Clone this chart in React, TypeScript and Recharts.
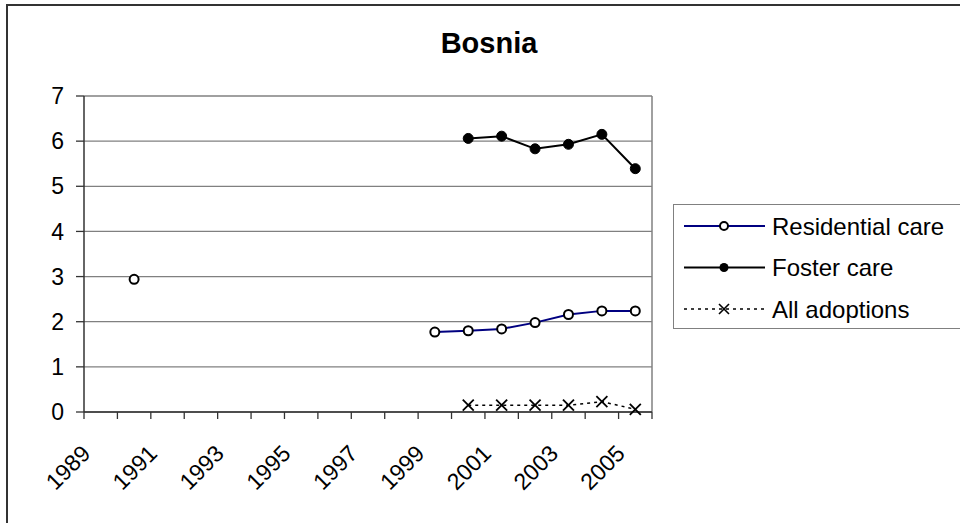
import {
  CartesianGrid,
  Legend,
  Line,
  LineChart,
  ReferenceLine,
  XAxis,
  YAxis,
} from "recharts";

const years = [
  1989, 1990, 1991, 1992, 1993, 1994, 1995, 1996, 1997, 1998, 1999, 2000,
  2001, 2002, 2003, 2004, 2005,
];
const residentialCare = [
  null, 2.94, null, null, null, null, null, null, null, null, 1.77, 1.8, 1.84,
  1.98, 2.16, 2.24, 2.24,
];
const fosterCare = [
  null, null, null, null, null, null, null, null, null, null, null, 6.06, 6.11,
  5.83, 5.93, 6.15, 5.39,
];
const allAdoptions = [
  null, null, null, null, null, null, null, null, null, null, null, 0.15, 0.15,
  0.15, 0.15, 0.23, 0.06,
];
const labelYears = [1989, 1991, 1993, 1995, 1997, 1999, 2001, 2003, 2005];
const yTicks = [0, 1, 2, 3, 4, 5, 6, 7];

const data = years.map((year, i) => ({
  year,
  residential: residentialCare[i],
  foster: fosterCare[i],
  adoptions: allAdoptions[i],
}));

// category boundaries, Excel puts the tick marks between the years
const boundaries = [...years.map((y) => y - 0.5), years[years.length - 1] + 0.5];

const FONT = "'Liberation Sans', Arial, sans-serif";
const PLOT_W = 568;
const BAND = PLOT_W / years.length;

const XTick = (props: any) => {
  const { x, y, payload } = props;
  const year = payload.value + 0.5;
  if (!labelYears.includes(year)) return <g />;
  const ax = x + BAND / 2 - 9;
  const ay = y + 34;
  return (
    <text
      x={ax}
      y={ay}
      textAnchor="end"
      fontSize={23}
      fontFamily={FONT}
      fill="#000"
      transform={`rotate(-45 ${ax} ${ay})`}
    >
      {year}
    </text>
  );
};

const CrossDot = (props: any) => {
  const { cx, cy, index } = props;
  if (cx == null || cy == null || allAdoptions[index] == null) return <g key={index} />;
  const s = 5.5;
  return (
    <g key={index} stroke="#000" strokeWidth={1.8}>
      <line x1={cx - s} y1={cy - s} x2={cx + s} y2={cy + s} />
      <line x1={cx - s} y1={cy + s} x2={cx + s} y2={cy - s} />
    </g>
  );
};

const legendRows = [
  { name: "Residential care", kind: "open" },
  { name: "Foster care", kind: "filled" },
  { name: "All adoptions", kind: "cross" },
];

const LegendBox = () => (
  <div
    style={{
      width: 300,
      height: 125,
      border: "1px solid #808080",
      background: "#fff",
      boxSizing: "border-box",
    }}
  >
    <svg width={300} height={123}>
      {legendRows.map((row, i) => {
        const cy = 21 + i * 41.5;
        return (
          <g key={row.name}>
            {row.kind === "open" && (
              <>
                <line x1={10} y1={cy} x2={91} y2={cy} stroke="#000080" strokeWidth={2} />
                <circle cx={50} cy={cy} r={4} fill="#fff" stroke="#000" strokeWidth={2} />
              </>
            )}
            {row.kind === "filled" && (
              <>
                <line x1={10} y1={cy} x2={91} y2={cy} stroke="#000" strokeWidth={2} />
                <circle cx={50} cy={cy} r={4.5} fill="#000" />
              </>
            )}
            {row.kind === "cross" && (
              <>
                <line x1={10} y1={cy} x2={91} y2={cy} stroke="#000" strokeWidth={1.5} strokeDasharray="3 4" />
                <g stroke="#000" strokeWidth={1.6}>
                  <line x1={45} y1={cy - 5} x2={55} y2={cy + 5} />
                  <line x1={45} y1={cy + 5} x2={55} y2={cy - 5} />
                </g>
              </>
            )}
            <text x={98} y={cy + 8.5} fontSize={24} fontFamily={FONT} fill="#000">
              {row.name}
            </text>
          </g>
        );
      })}
    </svg>
  </div>
);

export default function App() {
  return (
    <div
      style={{
        position: "fixed",
        left: 0,
        top: 0,
        width: 960,
        height: 523,
        overflow: "hidden",
        background: "#fff",
      }}
    >
      <LineChart
        width={960}
        height={523}
        data={data}
        margin={{ top: 96, right: 308, bottom: 0, left: 24 }}
      >
        <CartesianGrid horizontal vertical={false} stroke="#808080" strokeWidth={1.3} />
        <XAxis
          dataKey="year"
          type="number"
          domain={[boundaries[0], boundaries[boundaries.length - 1]]}
          ticks={boundaries}
          interval={0}
          height={111}
          tickSize={7}
          tick={<XTick />}
          axisLine={{ stroke: "#333", strokeWidth: 1.5 }}
          tickLine={{ stroke: "#333", strokeWidth: 1.3 }}
        />
        <YAxis
          domain={[0, 7]}
          ticks={yTicks}
          width={60}
          tickSize={8}
          tickMargin={12}
          interval={0}
          tick={{ fontSize: 23, fontFamily: FONT, fill: "#000" }}
          axisLine={{ stroke: "#333", strokeWidth: 1.5 }}
          tickLine={{ stroke: "#333", strokeWidth: 1.3 }}
        />
        <ReferenceLine x={boundaries[boundaries.length - 1]} stroke="#808080" strokeWidth={1.5} />
        <Legend
          layout="vertical"
          align="center"
          verticalAlign="middle"
          content={<LegendBox />}
          wrapperStyle={{ left: 673, top: 204, width: 300, height: 125 }}
        />
        <Line
          dataKey="residential"
          stroke="#000080"
          strokeWidth={2}
          isAnimationActive={false}
          dot={{ r: 4.5, fill: "#fff", stroke: "#000", strokeWidth: 2 }}
        />
        <Line
          dataKey="foster"
          stroke="#000"
          strokeWidth={2}
          isAnimationActive={false}
          dot={{ r: 5, fill: "#000", stroke: "#000", strokeWidth: 1 }}
        />
        <Line
          dataKey="adoptions"
          stroke="#000"
          strokeWidth={1.5}
          strokeDasharray="3 4"
          isAnimationActive={false}
          dot={<CrossDot />}
        />
      </LineChart>
      <svg
        width={960}
        height={523}
        style={{ position: "absolute", left: 0, top: 0, pointerEvents: "none" }}
      >
        <rect x={7} y={5} width={1000} height={600} fill="none" stroke="#333" strokeWidth={2} />
        <text
          x={489}
          y={53}
          textAnchor="middle"
          fontSize={29}
          fontWeight="bold"
          fontFamily={FONT}
          fill="#000"
        >
          Bosnia
        </text>
      </svg>
    </div>
  );
}
